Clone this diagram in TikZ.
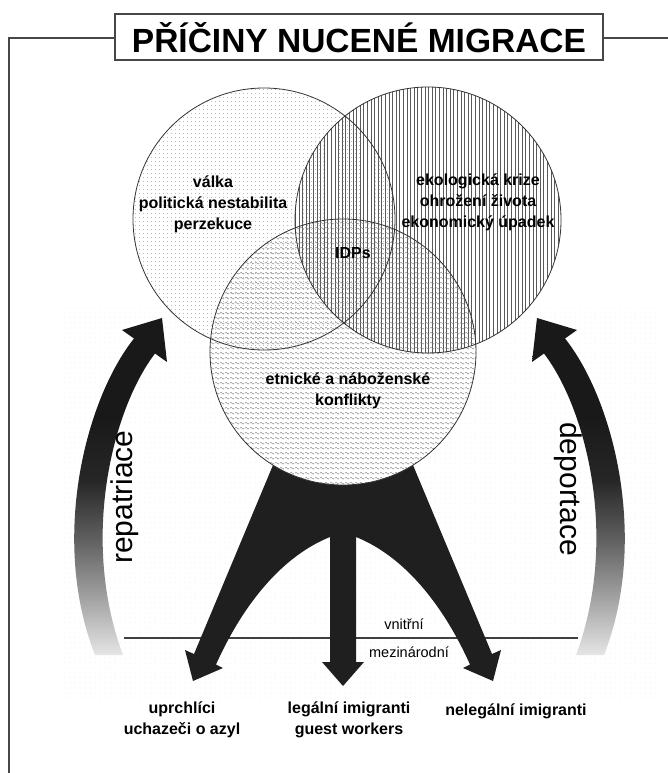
\documentclass[tikz,border=0pt]{standalone}
\usepackage{fontspec}
\setmainfont{Liberation Sans}
\usetikzlibrary{patterns,patterns.meta}
\tikzdeclarepattern{
  name=mywaves,
  type=uncolored,
  bounding box={(0pt,0pt) and (5pt,4.5pt)},
  tile size={(5pt,4.5pt)},
  code={
    \draw[line width=0.45pt] (0pt,2pt) sin (1.25pt,3pt) cos (2.5pt,2pt) sin (3.75pt,1pt) cos (5pt,2pt);
  }
}
\pgfdeclareverticalshading{fadeshade}{100bp}{color(0bp)=(black!10); color(25bp)=(black!10); color(33bp)=(black!35); color(42bp)=(black!62); color(51bp)=(black!85); color(60bp)=(black!90); color(100bp)=(black!90)}
\begin{document}
\begin{tikzpicture}[x=1pt,y=-1pt,
  frameline/.style={line width=1.3pt, draw=black!72},
  circ/.style={draw=black!80, line width=0.8pt},
  lbl/.style={font=\bfseries\fontsize{16}{21}\selectfont, align=center, inner sep=0pt},
  smalllbl/.style={font=\fontsize{14.5}{17}\selectfont, inner sep=0pt},
  rotlbl/.style={font=\fontsize{30}{34}\selectfont, inner sep=0pt},
  titlelbl/.style={font=\bfseries\fontsize{33.5}{38}\selectfont, inner sep=0pt},
  funnel/.style={fill=black!88},
  bigarrow/.style={shading=fadeshade}
]
\useasboundingbox (0,0) rectangle (668,773);
\fill[white] (0,0) rectangle (668,773);

% faint dotted background
\fill[pattern={Dots[distance=5pt,radius=0.5pt]}, pattern color=black!9] (62,305) rectangle (656,700);

% frame and title box
\coordinate (fl) at (9,773);
\coordinate (ftl) at (9,38);
\coordinate (ftr) at (668,38);
\draw[frameline] (fl) -- (ftl) -- (115,38);
\draw[frameline] (603,38) -- (ftr);
\draw[frameline, fill=white] (115,14) rectangle (603,60);
\node[titlelbl] (tit) at (359,37.5) {PŘÍČINY NUCENÉ MIGRACE};

% internal/international divider
\coordinate (divl) at (124,638);
\coordinate (divr) at (578,638);
\draw[line width=1.5pt, black!75] (divl) -- (divr);

% repatriation arrow (left)
\shade[bigarrow] (95,655) .. controls (50,540) and (85,400) .. (134,338.5)
  -- (122,330) -- (162,318) -- (167,362) -- (155,353.5)
  .. controls (112,410) and (80,540) .. (123,655) -- cycle;
% deportation arrow (right, mirrored)
\begin{scope}[xshift=699pt, xscale=-1]
\shade[bigarrow] (95,655) .. controls (50,540) and (85,400) .. (134,338.5)
  -- (122,330) -- (162,318) -- (167,362) -- (155,353.5)
  .. controls (112,410) and (80,540) .. (123,655) -- cycle;
\end{scope}

% funnel with three arrows
\fill[funnel] (283.5,440) -- (194,654) -- (185,650) -- (193,681) -- (223,668) -- (216,664.5)
  .. controls (245,600) and (285,555) .. (330,537) -- (330,662) -- (322,662) -- (343,686)
  -- (364,662) -- (356,662) -- (356,537)
  .. controls (401,555) and (441,600) .. (470,664.5) -- (463,668) -- (493,681) -- (501,650)
  -- (492,654) -- (402.5,440) -- cycle;

% circles
\coordinate (cL) at (264,219);
\coordinate (cR) at (428,220);
\coordinate (cB) at (343,352);
\fill[white] (cL) circle[radius=131pt];
\fill[white] (cR) circle[radius=133pt];
\fill[white] (cB) circle[radius=133pt];
\fill[pattern={Dots[distance=4pt,radius=0.5pt]}, pattern color=black!45] (cL) circle[radius=131pt];
\fill[pattern={Lines[angle=90,distance=3.6pt,line width=0.55pt]}, pattern color=black!65] (cR) circle[radius=133pt];
\fill[pattern=mywaves, pattern color=black!50] (cB) circle[radius=133pt];
\draw[circ] (cL) circle[radius=131pt];
\draw[circ] (cR) circle[radius=133pt];
\draw[circ] (cB) circle[radius=133pt];

% circle texts
\node[lbl] (valka) at (213,204) {válka\\politická nestabilita\\perzekuce};
\node[lbl] (eko) at (478,202) {ekologická krize\\ohrožení života\\ekonomický úpadek};
\node[lbl] (idp) at (353,253) {IDPs};
\node[lbl] (etn) at (348,391) {etnické a náboženské\\konflikty};

% side labels
\node[rotlbl, rotate=90] (rep) at (125,497) {repatriace};
\node[rotlbl, rotate=-90] (dep) at (568,489) {deportace};

% divider labels
\node[smalllbl] (vni) at (404,624) {vnitřní};
\node[smalllbl] (mez) at (409,652) {mezinárodní};

% bottom labels
\node[lbl] (upr) at (182,720) {uprchlíci\\uchazeči o azyl};
\node[lbl] (leg) at (349,720) {legální imigranti\\guest workers};
\node[lbl] (neleg) at (516,711) {nelegální imigranti};
\end{tikzpicture}
\end{document}
